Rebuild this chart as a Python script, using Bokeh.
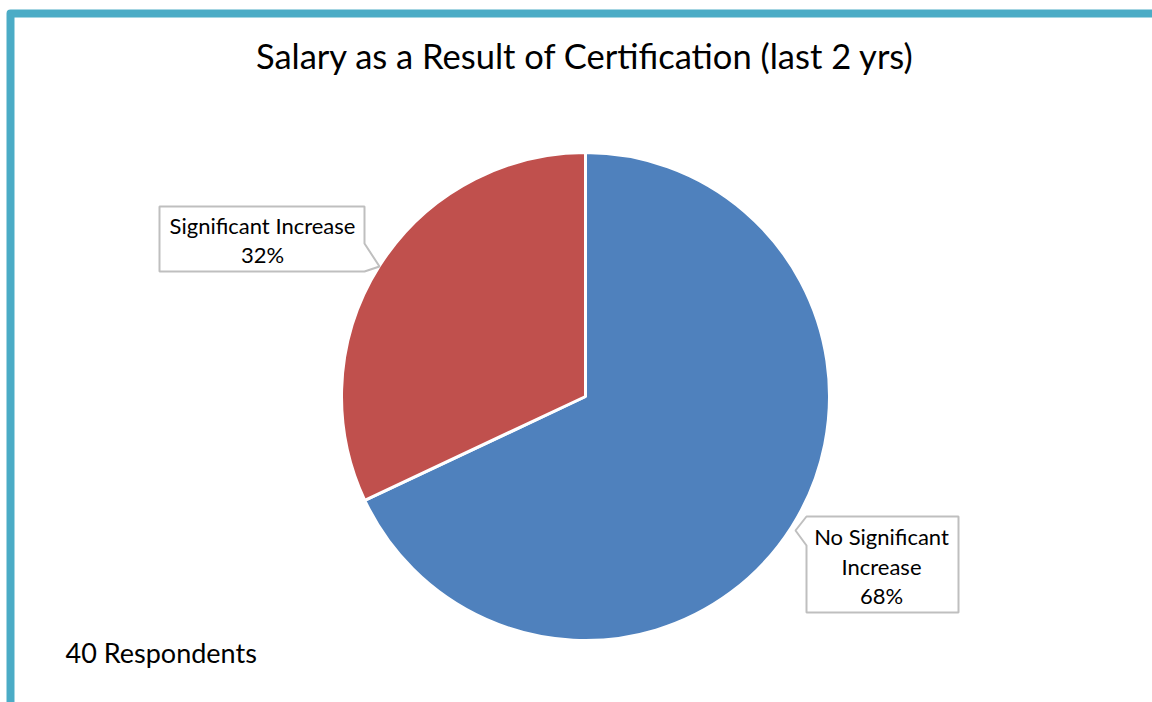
import math
from bokeh.plotting import figure
from bokeh.models import Range1d
from bokeh.core.properties import value
from bokeh.embed import file_html
from bokeh.resources import INLINE

# ---- data ----
title_text = "Salary as a Result of Certification (last 2 yrs)"
categories = ["No Significant Increase", "Significant Increase"]
shares = [68, 32]
colors = ["#4F81BD", "#C0504D"]
label_lines = [["No Significant", "Increase", "68%"], ["Significant Increase", "32%"]]
footnote = "40 Respondents"

W, H = 1152, 702


def sx(x):
    return x


def sy(y):
    return H - y


p = figure(width=W, height=H, output_backend="svg", toolbar_location=None,
           x_range=Range1d(0, W), y_range=Range1d(0, H), min_border=0)
p.axis.visible = False
p.grid.visible = False
p.outline_line_color = None
p.background_fill_color = "white"
p.border_fill_color = "white"

FONT = value("Lato")

# frame (teal, top + left, rounded corner)
p.line([sx(10), sx(10), sx(1170)], [sy(720), sy(13), sy(13)], line_color="#4BACC6",
       line_width=8, line_join="round")

# pie
cx, cy, r = sx(585), sy(396), 244
total = sum(shares)
ang = math.pi / 2
starts, ends = [], []
for s in shares:
    sweep = 2 * math.pi * s / total
    starts.append(ang - sweep)
    ends.append(ang)
    ang -= sweep
p.wedge(x=[cx] * len(shares), y=[cy] * len(shares), radius=r, radius_units="screen",
        start_angle=starts, end_angle=ends, fill_color=colors,
        line_color="white", line_width=3)

# callout boxes
box_red = [(159, 206), (364, 206), (364, 243), (379, 266), (364, 271), (159, 271)]
box_blue = [(806, 516), (958, 516), (958, 612), (806, 612), (806, 545), (795, 530)]
for box in (box_blue, box_red):
    p.patch([sx(a) for a, b in box], [sy(b) for a, b in box], fill_color="white",
            line_color="#BFBFBF", line_width=2)

# labels
lbl_pos = [(881, [536, 566, 595]), (262, [225, 254])]
for (lx, ys), lines in zip(lbl_pos, label_lines):
    p.text(x=[sx(lx)] * len(lines), y=[sy(v) for v in ys], text=lines,
           text_font=FONT, text_font_size="22px", text_align="center",
           text_baseline="middle", text_color="#000000")

# title
p.text(x=[sx(585)], y=[sy(55)], text=[title_text], text_font=FONT, text_font_size="34.5px",
       text_align="center", text_baseline="middle", text_color="#000000")

# footnote
p.text(x=[sx(65)], y=[sy(652)], text=[footnote], text_font=FONT, text_font_size="27px",
       text_align="left", text_baseline="middle", text_color="#000000")

open("out.html", "w").write(file_html(p, INLINE))
